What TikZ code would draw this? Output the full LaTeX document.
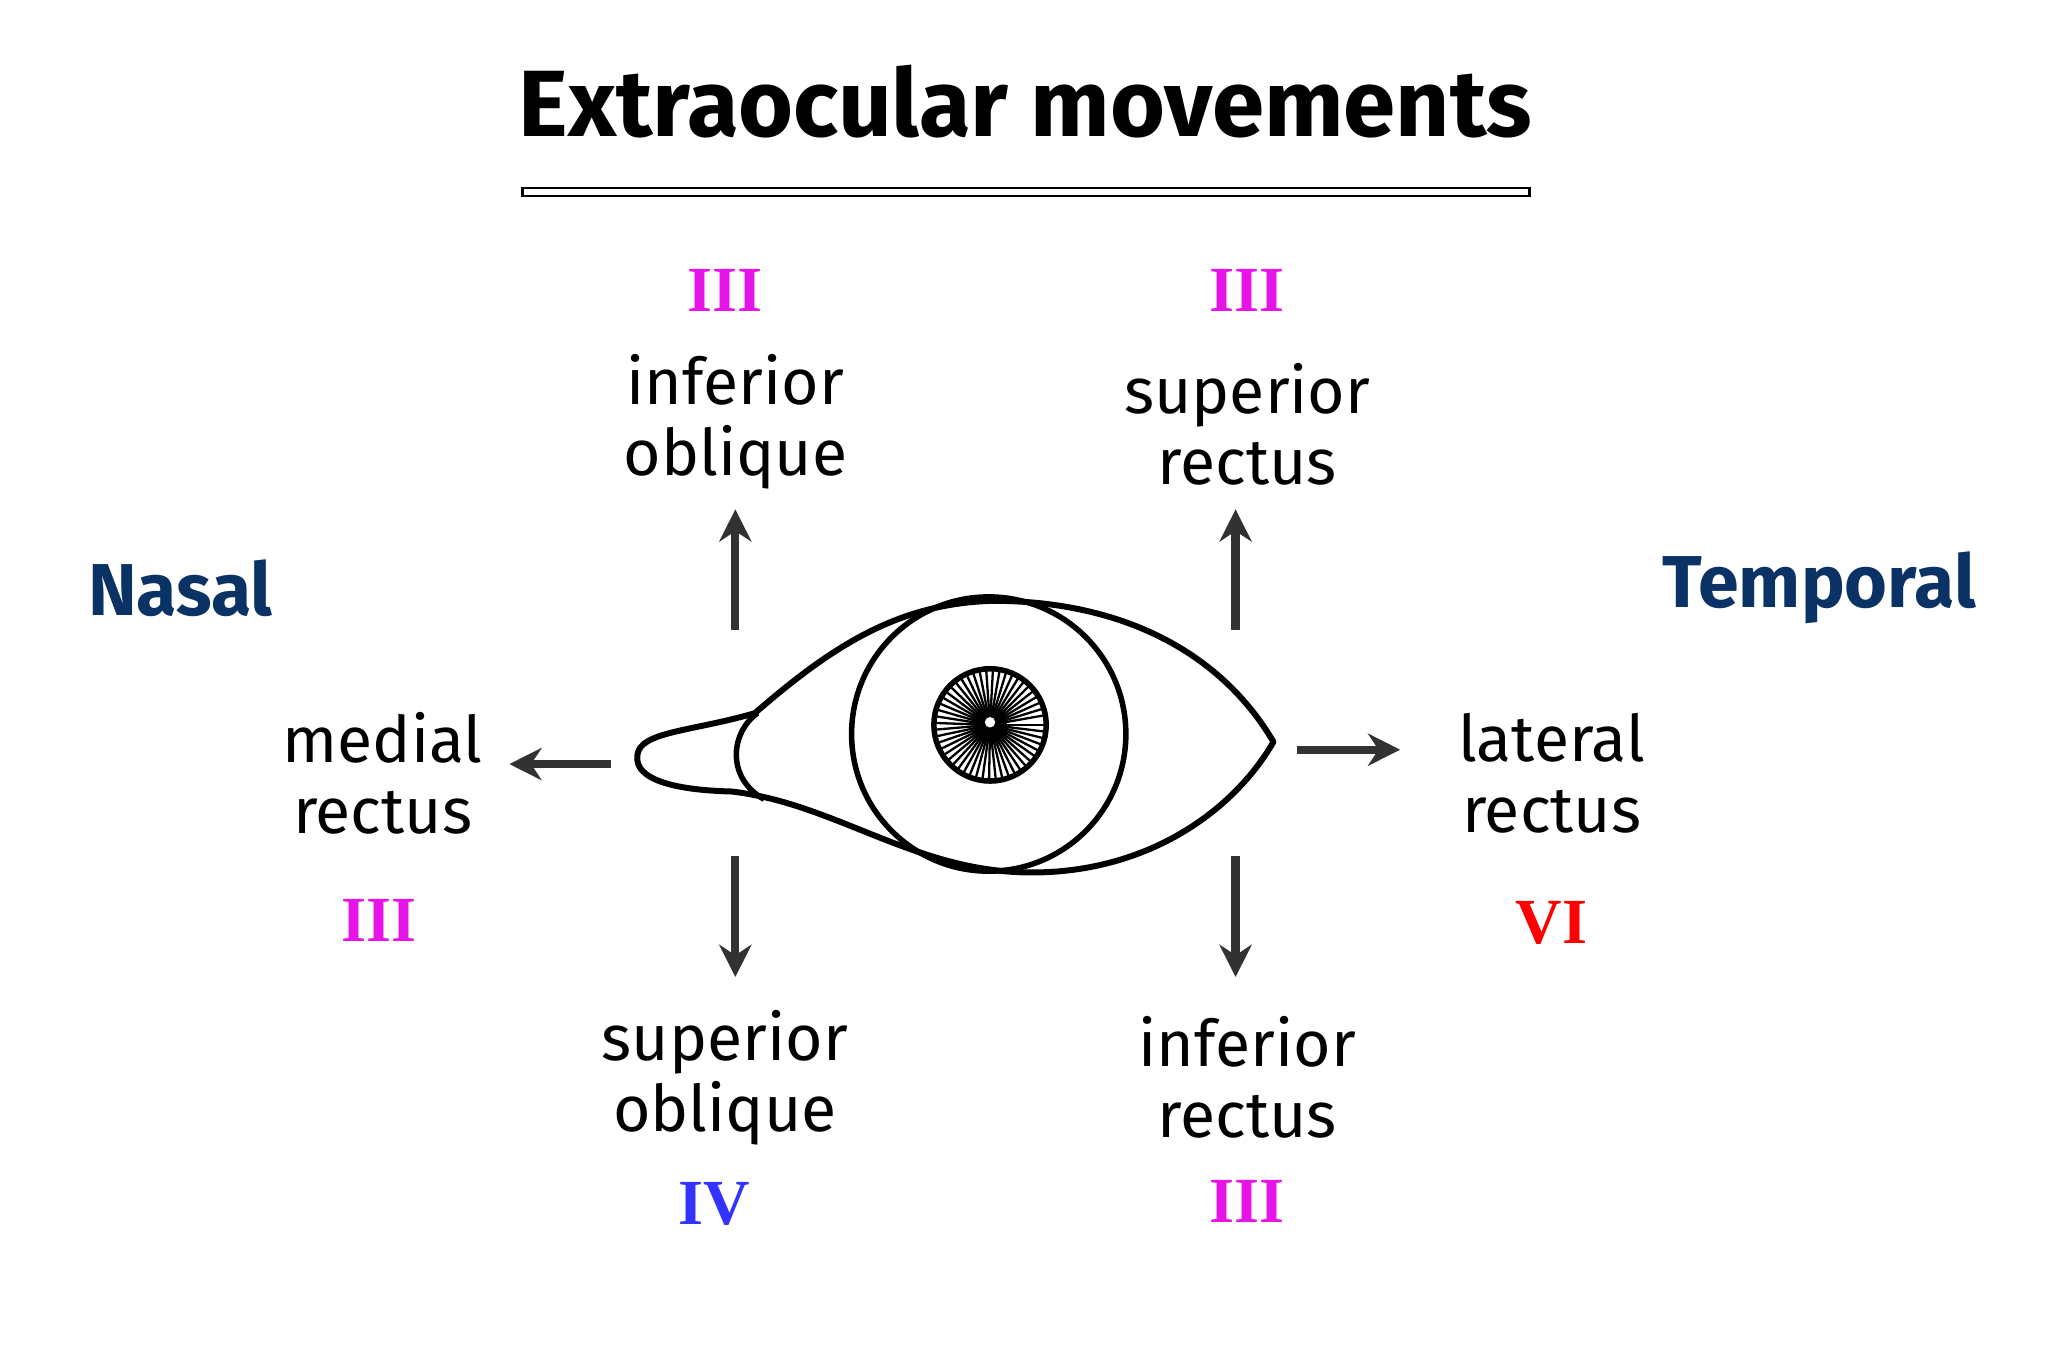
\documentclass[tikz,border=0pt]{standalone}
\usepackage{fontspec}
\setmainfont{Fira Sans}
\newfontfamily\rom{Liberation Serif}
\usetikzlibrary{arrows.meta}
\definecolor{mag}{RGB}{230,20,230}
\definecolor{nav}{RGB}{10,50,100}
\definecolor{arr}{RGB}{50,50,50}
\begin{document}
\begin{tikzpicture}[x=0.01cm,y=-0.01cm,
 lab/.style={align=center,font=\fontsize{14}{15.5}\selectfont},
 num/.style={font=\rom\bfseries\fontsize{14}{14}\selectfont},
 side/.style={font=\bfseries\fontsize{16}{16}\selectfont,text=nav},
 mv/.style={draw=arr,line width=1.8pt,-{Stealth[length=7pt,width=7pt]}}]
\useasboundingbox (0,0) rectangle (1568,1046);
\node[font=\bfseries\fontsize{20.5}{20.5}\selectfont] (title) at (785,78) {Extraocular movements};
\draw[line width=0.5pt] (400,144) rectangle (1171,150);
\node[side] (nasal) at (138,450) {Nasal};
\node[side] (temp) at (1393,450) {Temporal};
\node[num,text=mag] (n1) at (555,222) {III};
\node[num,text=mag] (n2) at (955,222) {III};
\node[num,text=mag] (n3) at (290,705) {III};
\node[num,text=red] (n4) at (1188,707) {VI};
\node[num,text=blue!80] (n5) at (547,922) {IV};
\node[num,text=mag] (n6) at (955,920) {III};
\node[lab] (io) at (563,323) {inferior\\oblique};
\node[lab] (sr) at (955,325) {superior\\rectus};
\node[lab] (mr) at (293,592) {medial\\rectus};
\node[lab] (lr) at (1188,592) {lateral\\rectus};
\node[lab] (so) at (555,825) {superior\\oblique};
\node[lab] (ir) at (955,825) {inferior\\rectus};
\coordinate (a1) at (563,482); \coordinate (b1) at (563,390);
\coordinate (a2) at (946,482); \coordinate (b2) at (946,390);
\coordinate (a3) at (468,585); \coordinate (b3) at (390,585);
\coordinate (a4) at (993,574); \coordinate (b4) at (1072,574);
\coordinate (a5) at (563,655); \coordinate (b5) at (563,748);
\coordinate (a6) at (946,655); \coordinate (b6) at (946,748);
\foreach \i in {1,...,6} \draw[mv] (a\i) -- (b\i);
% eye
\draw[line width=1.3pt,line join=round] (578,546) .. controls (640,492) and (690,462) .. (760,460)
 .. controls (860,460) and (935,500) .. (975,568)
 .. controls (945,620) and (880,668) .. (790,668)
 .. controls (700,668) and (640,615) .. (560,606)
 .. controls (520,605) and (485,598) .. (488,578)
 .. controls (490,560) and (530,560) .. (578,546) -- cycle;
\draw[line width=1.2pt] (580,546) .. controls (560,560) and (555,595) .. (585,612);
\draw[line width=1.2pt] (757,562) circle (105);
\fill[white] (758,555) circle (43);
\foreach \a in {0,7,...,356} \draw[line width=0.5pt] (758,555) ++(\a:9) -- ++(\a:34);
\draw[line width=1.2pt] (758,555) circle (43);
\fill[black] (758,555) circle (13);
\fill[white] (758,553) circle (4);
\end{tikzpicture}
\end{document}
